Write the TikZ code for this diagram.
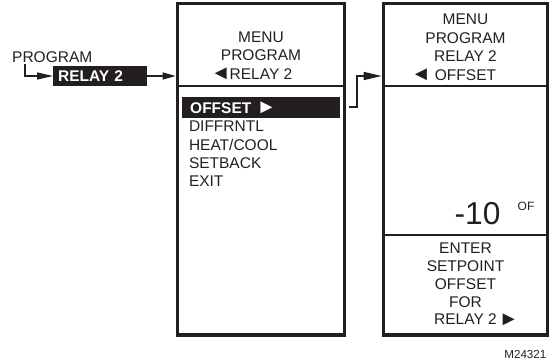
\documentclass[tikz,border=0pt]{standalone}
\usepackage{fontspec}
\setmainfont{Liberation Sans}
\usetikzlibrary{arrows.meta}
\definecolor{ink}{RGB}{35,31,32}
\newcommand{\ptrleft}{{\fontsize{20}{18}\selectfont\raisebox{-0.6pt}{◄}}}
\newcommand{\ptrright}{{\fontsize{20}{18}\selectfont\raisebox{-0.6pt}{►}}}
\tikzset{
  lbl/.style={inner sep=0pt, text=ink, font=\fontsize{15.5}{18.5}\selectfont},
  panel/.style={draw=ink, line width=3.6pt, inner sep=0pt, minimum width=#1, minimum height=331.5pt},
  hilite/.style={fill=ink, text=white, font=\fontsize{15.5}{18.5}\selectfont\bfseries,
    text height=11pt, text depth=0pt, anchor=west, align=left},
  rule/.style={draw=ink, line width=1.2pt},
  arr/.style={draw=ink, line width=1.3pt, -{Triangle[length=16pt,width=7pt]}}
}
\begin{document}
\begin{tikzpicture}[x=1pt,y=-1pt]
        \useasboundingbox (0,0) rectangle (549,362);
        \node[lbl, anchor=base west] (prog) at (12,62) {PROGRAM};
        \node[hilite, text width=83.7pt, inner xsep=5pt, minimum height=20pt] (relay) at (53,76) {RELAY 2};
        \node[panel=167pt] (menu) at (261,169.25) {};
        \node[panel=164pt] (setp) at (465.5,169.25) {};
        \coordinate (d1) at (0,86);
        \coordinate (d2) at (0,235);
        \draw[rule] (menu.west |- d1) -- (menu.east |- d1);
        \draw[rule] (setp.west |- d1) -- (setp.east |- d1);
        \draw[rule] (setp.west |- d2) -- (setp.east |- d2);
        \node[lbl, anchor=north, align=center] (mhead) at (261,31.2) {MENU\\PROGRAM\\\llap{\ptrleft\hspace{-1pt}}RELAY 2};
        \node[hilite, text width=142pt, inner xsep=8pt, minimum height=20.4pt] (bar) at (182,107.5) {OFFSET \ptrright};
        \node[lbl, anchor=north west, align=left, font=\fontsize{15.5}{18.2}\selectfont] (items) at (188.8,121.1) {DIFFRNTL\\HEAT/COOL\\SETBACK\\EXIT};
        \node[lbl, anchor=north, align=center] (shead) at (465.5,13.9) {MENU\\PROGRAM\\RELAY 2\\\llap{\ptrleft\hspace{4pt}}OFFSET};
        \node[lbl, anchor=base, font=\fontsize{31.7}{32}\selectfont] (val) at (477.5,224.3) {-10};
        \node[lbl, anchor=base, font=\fontsize{12}{12}\selectfont] (unit) at (526,210) {OF};
        \node[lbl, anchor=north, align=center, font=\fontsize{15.5}{17.75}\selectfont] (hint) at (465.5,242.9) {ENTER\\SETPOINT\\OFFSET\\FOR\\RELAY 2\rlap{\hspace{2pt}\ptrright}};
        \node[lbl, anchor=base west, font=\fontsize{11.6}{12}\selectfont] (code) at (504.2,358.3) {M24321};
        \coordinate (p0) at (25,64);
        \coordinate (k1) at (349,107);
        \coordinate (k2) at (357,76);
        \draw[arr] (p0) |- (relay.west);
        \draw[arr, -{Triangle[length=13pt,width=7pt]}] (relay.east) -- (relay.east -| menu.west);
        \draw[arr, -{Triangle[length=18pt,width=8pt]}] (k1) -| (k2) -- (k2 -| setp.west);
    \end{tikzpicture}
\end{document}
